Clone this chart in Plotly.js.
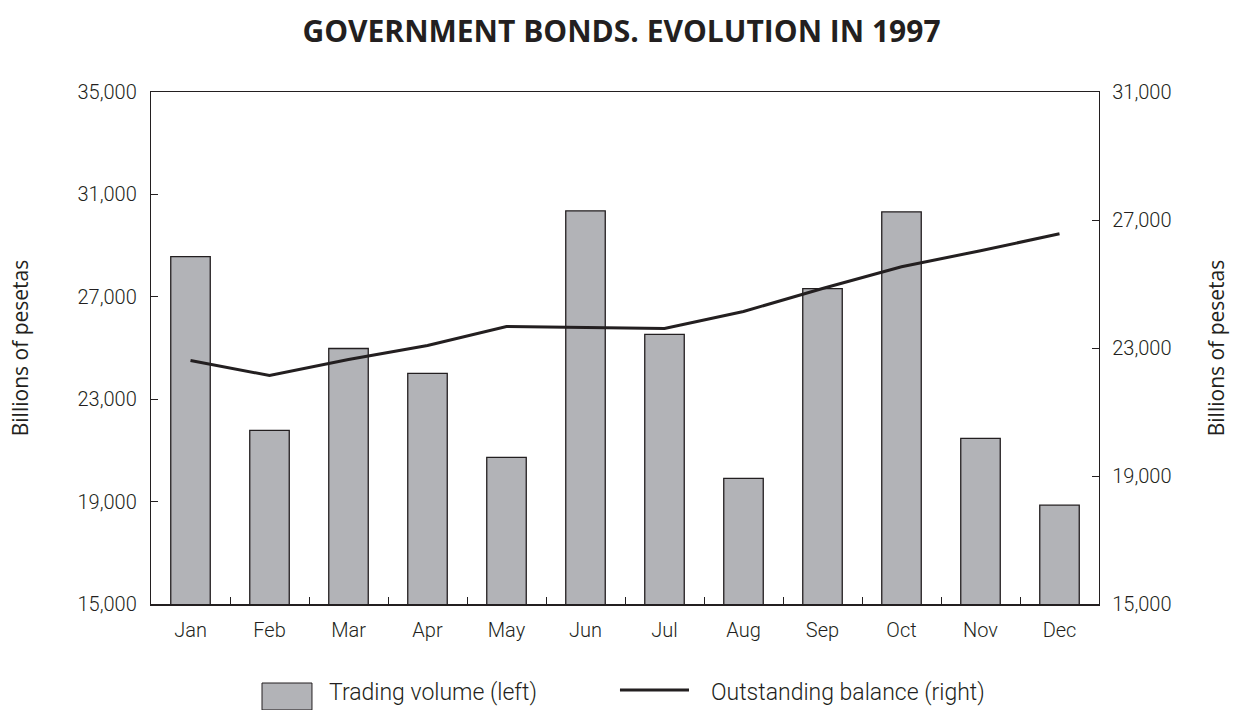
<!DOCTYPE html>
<html>
<head>
<meta charset="utf-8">
<script src="https://cdn.plot.ly/plotly-3.0.1.min.js"></script>
<style>html,body{margin:0;padding:0;background:#fff;}#chart{width:1243px;height:710px;}</style>
</head>
<body>
<div id="chart"></div>
<script>
const months = ["Jan","Feb","Mar","Apr","May","Jun","Jul","Aug","Sep","Oct","Nov","Dec"];
const tradingVolume = [28570, 21780, 24980, 24010, 20730, 30360, 25530, 19910, 27320, 30320, 21470, 18860];
const outstandingBalance = [22610, 22140, 22640, 23080, 23670, 23640, 23610, 24140, 24860, 25540, 26040, 26570];
const leftTicks = [15000, 19000, 23000, 27000, 31000, 35000];
const rightTicks = [15000, 19000, 23000, 27000, 31000];

const ink = "#231f20";
const tickFont = {family: "Roboto, Lato, sans-serif", size: 20, weight: 300, color: ink};
const textFont = {family: "'Open Sans', sans-serif", size: 21, weight: 400, color: ink};
const legendFont = {family: "Roboto, Lato, sans-serif", size: 23, weight: 300, color: ink};

const traces = [
  {
    type: "bar", x: months, y: tradingVolume, name: "Trading volume (left)",
    width: 0.5, base: 0,
    marker: {color: "#b2b3b7", line: {color: ink, width: 1.3}},
    yaxis: "y", hoverinfo: "x+y"
  },
  {
    type: "scatter", mode: "lines", x: months, y: outstandingBalance, name: "Outstanding balance (right)",
    line: {color: ink, width: 3},
    yaxis: "y2"
  }
];

const layout = {
  width: 1243, height: 710,
  margin: {l: 151, r: 144, t: 92, b: 106},
  paper_bgcolor: "#fff", plot_bgcolor: "#fff",
  showlegend: false,
  title: {
    text: "<b>GOVERNMENT BONDS. EVOLUTION IN 1997</b>",
    font: {family: "'Open Sans', sans-serif", size: 30, color: ink},
    x: 0.5, xanchor: "center", y: 1 - 31/710, yanchor: "middle"
  },
  xaxis: {
    type: "category",
    showline: true, linecolor: ink, linewidth: 1.5,
    mirror: true,
    ticks: "inside", tickson: "boundaries", ticklen: 7, tickcolor: ink, tickwidth: 1,
    ticklabelstandoff: 7,
    showgrid: false, zeroline: false,
    tickfont: tickFont
  },
  yaxis: {
    range: [15000, 35000],
    tickvals: leftTicks, tickformat: ",",
    showline: true, linecolor: ink, linewidth: 1.2,
    ticks: "inside", ticklen: 7, tickcolor: ink,
    ticklabelstandoff: 9,
    showgrid: false, zeroline: false,
    tickfont: tickFont,
    title: {text: "Billions of pesetas", font: textFont, standoff: 43}
  },
  yaxis2: {
    overlaying: "y", side: "right",
    range: [15000, 31000],
    tickvals: rightTicks, tickformat: ",",
    showline: true, linecolor: ink, linewidth: 1.2,
    ticks: "inside", ticklen: 7, tickcolor: ink,
    ticklabelstandoff: 8,
    showgrid: false, zeroline: false,
    tickfont: tickFont,
    title: {text: "Billions of pesetas", font: textFont, standoff: 38}
  },
  shapes: [
    {type: "rect", xref: "paper", yref: "paper", x0: 0.1171, x1: 0.1698, y0: -0.207, y1: -0.1543,
     fillcolor: "#b2b3b7", line: {color: ink, width: 1}},
    {type: "line", xref: "paper", yref: "paper", x0: 0.4947, x1: 0.5675, y0: -0.168, y1: -0.168,
     line: {color: ink, width: 3}}
  ],
  annotations: [
    {xref: "paper", yref: "paper", x: 0.1857, y: -0.172, xanchor: "left", yanchor: "middle",
     text: "Trading volume (left)", showarrow: false, font: legendFont},
    {xref: "paper", yref: "paper", x: 0.5886, y: -0.172, xanchor: "left", yanchor: "middle",
     text: "Outstanding balance (right)", showarrow: false, font: legendFont}
  ]
};

Plotly.newPlot("chart", traces, layout, {displayModeBar: false, staticPlot: true});
</script>
</body>
</html>
